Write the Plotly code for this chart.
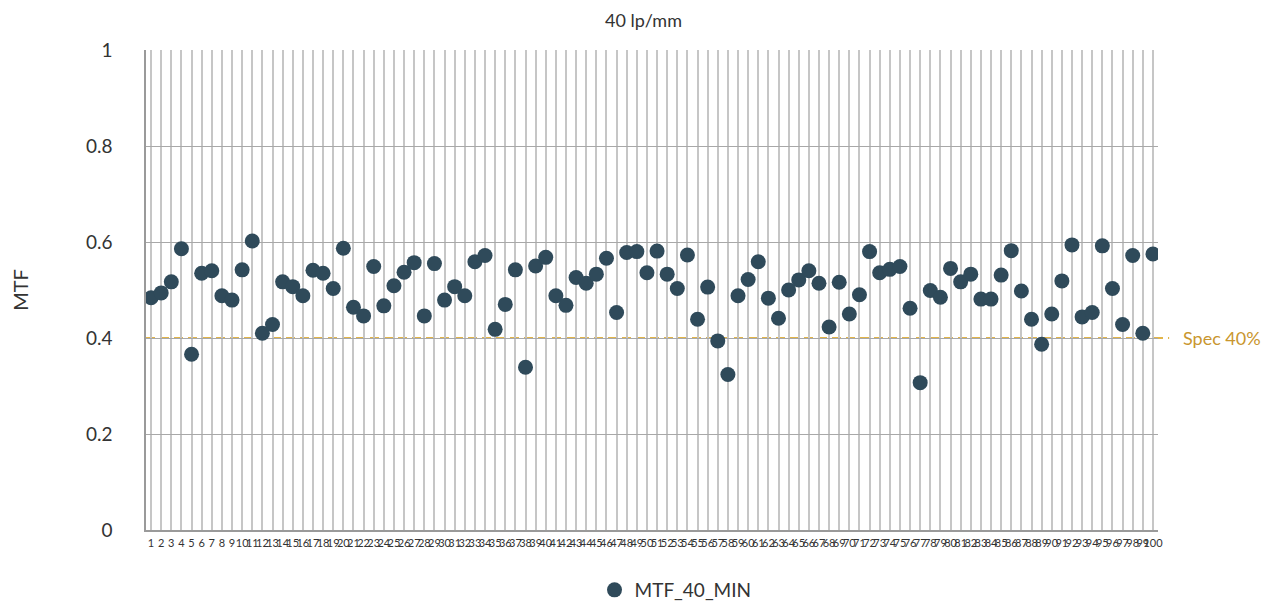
import plotly.graph_objects as go

samples = list(range(1, 101))
tick_labels = [str(i) for i in samples]
mtf_40_min = [
    0.484, 0.494, 0.517, 0.586, 0.366, 0.535, 0.540, 0.488, 0.479, 0.542,
    0.602, 0.410, 0.428, 0.517, 0.507, 0.488, 0.541, 0.535, 0.503, 0.587,
    0.464, 0.446, 0.549, 0.467, 0.509, 0.537, 0.557, 0.446, 0.555, 0.479,
    0.507, 0.488, 0.559, 0.572, 0.418, 0.470, 0.542, 0.339, 0.550, 0.568,
    0.488, 0.468, 0.526, 0.514, 0.533, 0.566, 0.453, 0.578, 0.580, 0.536,
    0.581, 0.533, 0.503, 0.573, 0.439, 0.506, 0.394, 0.324, 0.488, 0.522,
    0.559, 0.483, 0.441, 0.500, 0.521, 0.540, 0.514, 0.423, 0.516, 0.450,
    0.490, 0.580, 0.536, 0.543, 0.549, 0.462, 0.307, 0.499, 0.485, 0.545,
    0.517, 0.533, 0.481, 0.481, 0.531, 0.582, 0.498, 0.439, 0.387, 0.450,
    0.519, 0.594, 0.444, 0.453, 0.592, 0.503, 0.428, 0.572, 0.410, 0.575,
]
spec_value = 0.4
spec_label = "Spec 40%"
y_ticks = [0, 0.2, 0.4, 0.6, 0.8, 1]
y_tick_text = ["0", "0.2", "0.4", "0.6", "0.8", "1"]

FONT = "Lato, Open Sans, sans-serif"
TXT = "#333333"

fig = go.Figure()
fig.add_trace(go.Scatter(
    x=samples, y=mtf_40_min, mode="markers", name="MTF_40_MIN",
    marker=dict(color="#2F4A5A", size=15, line=dict(width=0)),
))

fig.add_shape(type="line", xref="paper", yref="y", x0=0, x1=1.011,
              y0=spec_value, y1=spec_value, layer="below",
              line=dict(color="#E2B54A", width=2, dash="9px,5px"))
fig.add_annotation(xref="paper", yref="y", x=1.0227, y=spec_value,
                   text=spec_label, showarrow=False, xanchor="left", yanchor="middle",
                   font=dict(family=FONT, size=18, color="#C9962E"))

fig.update_layout(
    width=1271, height=604,
    margin=dict(l=138, r=121, t=42, b=82, autoexpand=False),
    paper_bgcolor="white", plot_bgcolor="white",
    font=dict(family=FONT, color=TXT),
    title=dict(text="40 lp/mm", x=0.5, xanchor="center", y=0.979, yanchor="middle",
               font=dict(family=FONT, size=18, color=TXT)),
    showlegend=True,
    legend=dict(orientation="h", x=0.4432, xanchor="left", y=-0.125, yanchor="middle",
                font=dict(family=FONT, size=19, color=TXT)),
    xaxis=dict(
        range=[0.5, 100.5], tickmode="array", tickvals=samples, ticktext=tick_labels,
        tickangle=0, showgrid=True, gridcolor="#C6C6C6", gridwidth=1.5,
        showline=True, linecolor="#9A9A9A", linewidth=1.5, zeroline=False,
        ticks="", ticklabelstandoff=2,
        tickfont=dict(family=FONT, size=11, color=TXT),
    ),
    yaxis=dict(
        range=[0, 1], tickmode="array", tickvals=y_ticks, ticktext=y_tick_text,
        showgrid=True, gridcolor="#A8A8A8", gridwidth=1.2,
        showline=True, linecolor="#9A9A9A", linewidth=1.5, zeroline=False,
        ticks="", ticklabelstandoff=28,
        tickfont=dict(family=FONT, size=19, color=TXT),
        title=dict(text="MTF", font=dict(family=FONT, size=20, color=TXT), standoff=55),
    ),
)

fig.write_html("out.html")
